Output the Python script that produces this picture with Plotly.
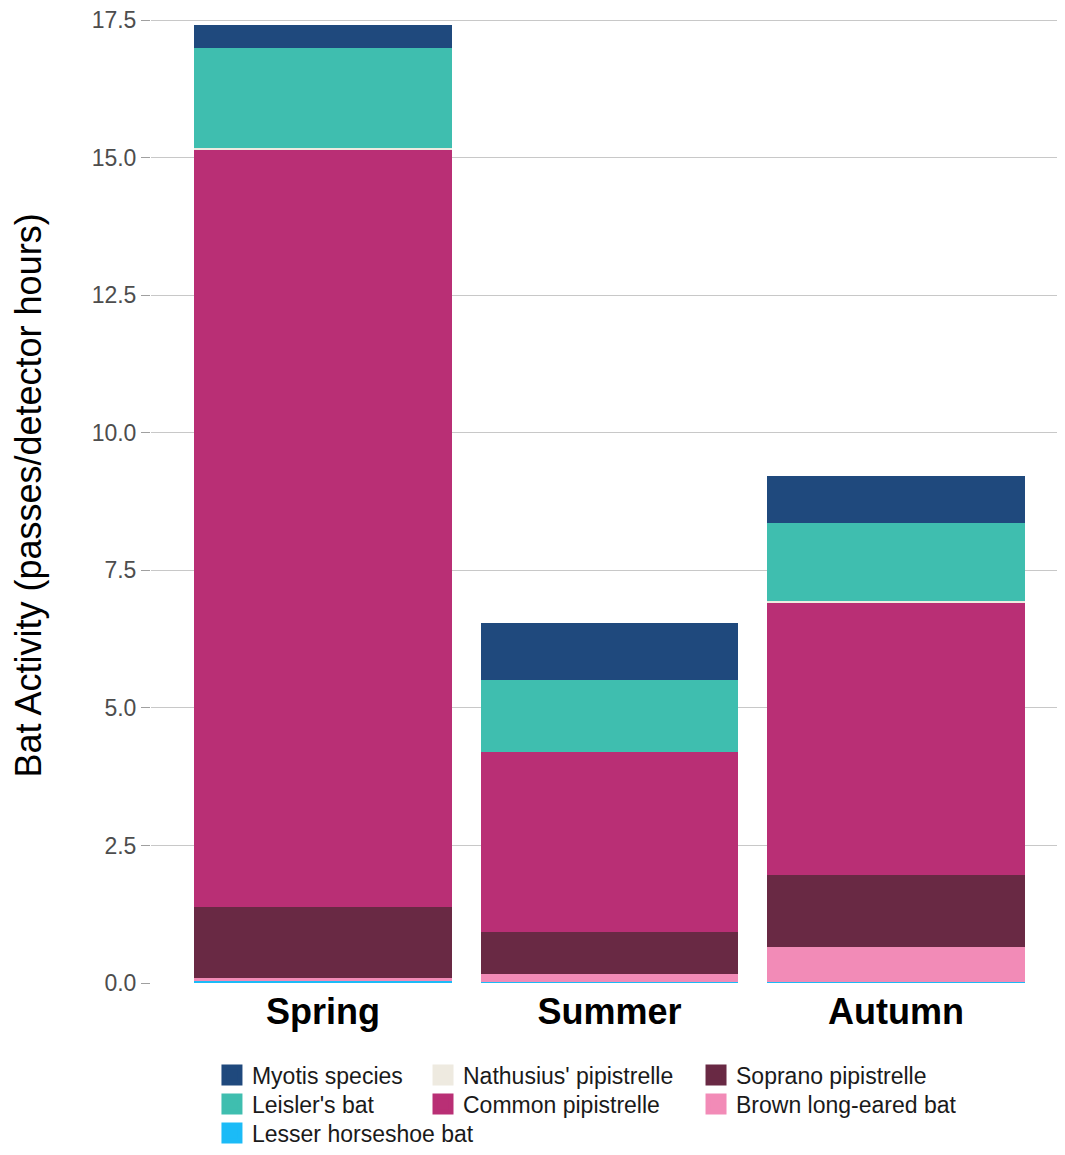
import plotly.graph_objects as go

seasons = ["Spring", "Summer", "Autumn"]

# stacked from bottom to top
lesser_horseshoe = [0.03, 0.02, 0.01]
brown_long_eared = [0.06, 0.14, 0.64]
soprano_pip = [1.30, 0.77, 1.31]
common_pip = [13.75, 3.27, 4.96]
nathusius_pip = [0.03, 0.00, 0.02]
leislers = [1.82, 1.31, 1.42]
myotis = [0.42, 1.03, 0.85]

species = [
    ("Lesser horseshoe bat", lesser_horseshoe, "#1BBBF7"),
    ("Brown long-eared bat", brown_long_eared, "#F28BB7"),
    ("Soprano pipistrelle", soprano_pip, "#692944"),
    ("Common pipistrelle", common_pip, "#B92F75"),
    ("Nathusius' pipistrelle", nathusius_pip, "#EEEAE0"),
    ("Leisler's bat", leislers, "#3FBEAF"),
    ("Myotis species", myotis, "#1F497D"),
]

# legend layout: (name, column, row)
legend_layout = [
    ("Myotis species", 0, 0),
    ("Leisler's bat", 0, 1),
    ("Lesser horseshoe bat", 0, 2),
    ("Nathusius' pipistrelle", 1, 0),
    ("Common pipistrelle", 1, 1),
    ("Soprano pipistrelle", 2, 0),
    ("Brown long-eared bat", 2, 1),
]
col_x = [0.0667, 0.2976, 0.5963]
row_y = [-0.0944, -0.1241, -0.1538]

FONT = "Liberation Sans, Arial, sans-serif"

fig = go.Figure()
for name, vals, col in species:
    fig.add_trace(go.Bar(
        x=seasons, y=vals, name=name, marker=dict(color=col, line=dict(width=0)),
        showlegend=False,
    ))

colour_of = {n: c for n, _, c in species}
legend_defs = {}
for i, (n, c, r) in enumerate(legend_layout):
    key = "legend" if i == 0 else f"legend{i + 1}"
    fig.add_trace(go.Scatter(
        x=[None], y=[None], mode="markers", name=n, legend=key,
        marker=dict(symbol="square", size=16, color=colour_of[n],
                    line=dict(color=colour_of[n], width=5)),
        showlegend=True,
    ))
    legend_defs[key] = dict(
        orientation="v", x=col_x[c], xanchor="left", y=row_y[r], yanchor="middle",
        font=dict(family=FONT, size=23, color="#1A1A1A"),
        itemsizing="trace", bgcolor="rgba(0,0,0,0)", itemwidth=30,
    )

fig.update_layout(
    width=1057, height=1147,
    margin=dict(l=143, r=0, t=0, b=172, autoexpand=False),
    barmode="stack", bargap=0.1,
    plot_bgcolor="white", paper_bgcolor="white",
    font=dict(family=FONT),
    **legend_defs,
    xaxis=dict(
        type="category", range=[-0.6, 2.59],
        showgrid=False, showline=False, zeroline=False,
        ticks="", ticklabelstandoff=4,
        tickfont=dict(family=FONT, size=36, color="black", weight="bold"),
    ),
    yaxis=dict(
        range=[0, 17.72],
        tickvals=[0, 2.5, 5, 7.5, 10, 12.5, 15, 17.5],
        ticktext=["0.0", "2.5", "5.0", "7.5", "10.0", "12.5", "15.0", "17.5"],
        ticklabeloverflow="allow",
        showgrid=True, gridcolor="#C8C8C8", gridwidth=1.4,
        zeroline=False, showline=False,
        ticks="outside", ticklen=9, tickcolor="#A0A0A0", tickwidth=1.3,
        tickfont=dict(family=FONT, size=23, color="#4D4D4D"),
        title=dict(text="Bat Activity (passes/detector hours)",
                   font=dict(family=FONT, size=36, color="black"), standoff=40),
    ),
)

fig.write_html("out.html")
